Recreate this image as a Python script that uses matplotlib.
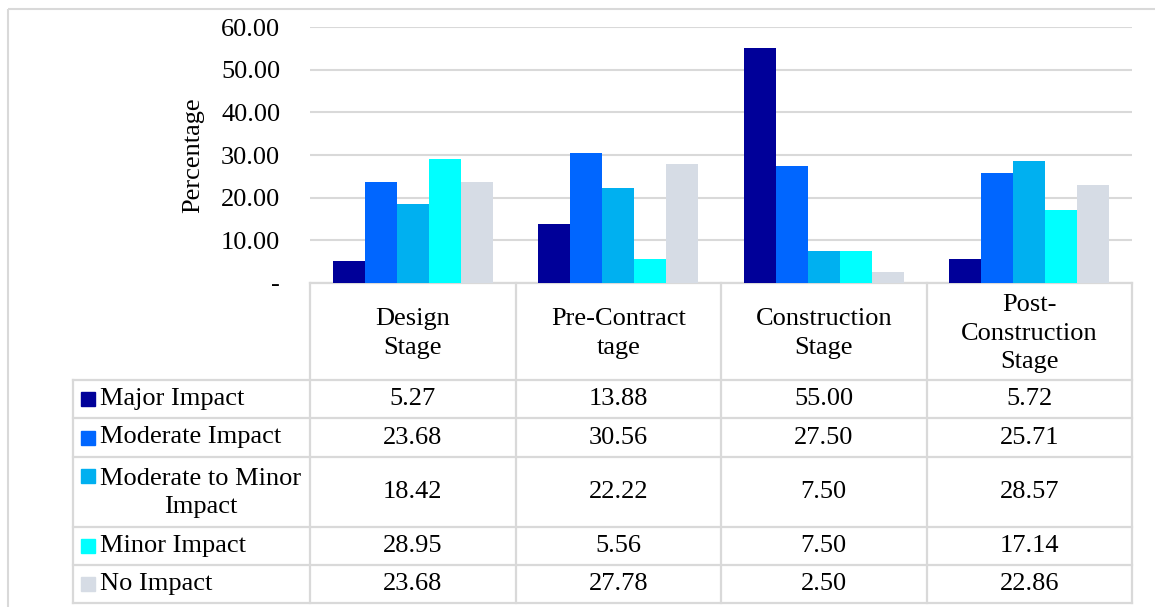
import numpy as np
import matplotlib
matplotlib.use("Agg")
import matplotlib.pyplot as plt
from matplotlib.patches import Rectangle

# data
stages = ["Design\nStage", "Pre-Contract\ntage", "Construction\nStage", "Post-\nConstruction\nStage"]
series = ["Major Impact", "Moderate Impact", "Moderate to Minor\nImpact", "Minor Impact", "No Impact"]
major = [5.27, 13.88, 55.00, 5.72]
moderate = [23.68, 30.56, 27.50, 25.71]
mod_minor = [18.42, 22.22, 7.50, 28.57]
minor = [28.95, 5.56, 7.50, 17.14]
no_impact = [23.68, 27.78, 2.50, 22.86]
yticks = [0, 10, 20, 30, 40, 50, 60]

colors = ["#000099", "#0066FF", "#00B0F0", "#00FFFF", "#D6DCE5"]
values = [major, moderate, mod_minor, minor, no_impact]

plt.rcParams['font.family'] = ['Liberation Serif', 'DejaVu Serif']
FS = 19
GRID = "#D9D9D9"

W, H = 1155, 607
fig = plt.figure(figsize=(W / 100, H / 100), dpi=100)

# pixel-space overlay for frame and table
ov = fig.add_axes([0, 0, 1, 1])
ov.set_xlim(0, W)
ov.set_ylim(H, 0)
ov.axis('off')
ov.patch.set_alpha(0)

# outer frame
ov.add_patch(Rectangle((8, 9), W + 20, H + 20, fill=False, ec=GRID, lw=1.5))

# bar chart axes
x0, x1, y_top, y_bot = 310, 1132, 27, 283
ax = fig.add_axes([x0 / W, 1 - y_bot / H, (x1 - x0) / W, (y_bot - y_top) / H])
ax.patch.set_alpha(0)
n = len(stages)
x = np.arange(n)
bw = 0.78 / len(series)
for i, (vals, c) in enumerate(zip(values, colors)):
    ax.bar(x + (i - 2) * bw, vals, width=bw, color=c, zorder=3)
ax.set_xlim(-0.5, n - 0.5)
ax.set_ylim(0, 60)
ax.set_yticks(yticks)
ax.set_yticklabels(["-" if v == 0 else f"{v:.2f}" for v in yticks], fontsize=FS)
ax.tick_params(axis='y', length=0, pad=21.5)
ax.set_xticks([])
ax.yaxis.grid(True, color=GRID, lw=1.5, zorder=0)
for s in ax.spines.values():
    s.set_visible(False)
ax.set_ylabel("Percentage", fontsize=FS, labelpad=12)

# data table
col_edges = [x0 + (x1 - x0) * k / n for k in range(n + 1)]
label_left = 73
row_edges = [283, 380, 418, 457, 527, 565, 603]

lw_t = 1.6
for cx in col_edges:
    ov.plot([cx, cx], [row_edges[0], row_edges[-1]], color=GRID, lw=lw_t)
ov.plot([label_left, label_left], [row_edges[1], row_edges[-1]], color=GRID, lw=lw_t)
ov.plot([x0, x1], [row_edges[0], row_edges[0]], color=GRID, lw=lw_t)
for ry in row_edges[1:]:
    ov.plot([label_left, x1], [ry, ry], color=GRID, lw=lw_t)

# headers
for k, st in enumerate(stages):
    cx = (col_edges[k] + col_edges[k + 1]) / 2
    ov.text(cx, (row_edges[0] + row_edges[1]) / 2 + 2, st, ha='center', va='center',
            fontsize=FS, linespacing=1.38, multialignment='center')

# rows
for r, (name, vals, c) in enumerate(zip(series, values, colors)):
    top, bot = row_edges[r + 1], row_edges[r + 2]
    cy = (top + bot) / 2
    if "\n" in name:
        ky = top + 19
        ov.text(100, cy + 1, name, ha='left', va='center', fontsize=FS,
                linespacing=1.38, multialignment='center')
    else:
        ky = cy
        ov.text(100, cy, name, ha='left', va='center', fontsize=FS)
    ov.add_patch(Rectangle((81, ky - 7), 14, 14, color=c))
    for k, v in enumerate(vals):
        cx = (col_edges[k] + col_edges[k + 1]) / 2
        ov.text(cx, cy, f"{v:.2f}", ha='center', va='center', fontsize=FS)

fig.savefig("out.png", dpi=100)
